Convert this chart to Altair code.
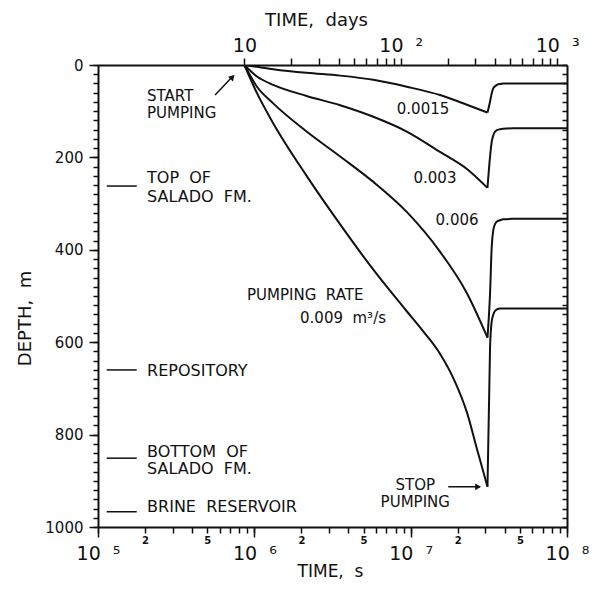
import altair as alt
import pandas as pd

NB = "\u00a0"  # non-breaking space (SVG collapses normal double spaces)

# ---------------- data ----------------
curve_names = ["0.0015", "0.003", "0.006", "0.009"]

pre_time_s = [1e5, 8.64e5]

pump_time_0015 = [8.64e5, 1.04e6, 1.32e6, 2.16e6, 3.54e6, 5.77e6, 9.44e6, 1.54e7, 2.29e7, 3.1e7]
pump_depth_0015 = [0, 4, 9, 17, 23, 32, 47, 65, 86, 103]
pump_time_003 = [8.64e5, 1.04e6, 1.32e6, 2.16e6, 3.54e6, 5.77e6, 9.44e6, 1.54e7, 2.29e7, 3.1e7]
pump_depth_003 = [0, 25, 43, 67, 87, 112, 144, 188, 225, 266]
pump_time_006 = [8.64e5, 1.04e6, 1.32e6, 2.16e6, 3.54e6, 5.77e6, 9.44e6, 1.54e7, 2.29e7, 3.1e7]
pump_depth_006 = [0, 47, 83, 144, 198, 253, 318, 404, 494, 590]
pump_time_009 = [8.64e5, 1.04e6, 1.32e6, 2.16e6, 3.54e6, 5.77e6, 9.44e6, 1.2e7, 1.54e7, 1.9e7,
                 2.29e7, 2.65e7, 3.1e7]
pump_depth_009 = [0, 61, 126, 240, 345, 443, 533, 576, 625, 682, 752, 830, 913]

rec_time_s = [3.1e7, 3.22e7, 3.3e7, 3.38e7, 3.47e7, 3.56e7, 3.73e7, 3.9e7, 4.5e7, 1e8]
rec_depth_0015 = [103, 79, 61, 50, 46, 43, 41, 40, 40, 40]
rec_depth_003 = [266, 198, 166, 152, 144, 141, 139, 138, 137, 137]
rec_depth_006 = [590, 494, 393, 357, 344, 339, 336, 334, 333, 333]
rec_depth_009 = [913, 610, 555, 540, 532, 529, 527, 527, 527, 527]

marker_depth = [262, 660, 851, 967]
marker_t0 = 1.137e5
marker_t1 = 1.769e5

marker_texts = ["TOP" + NB + NB + "OF", "SALADO" + NB + NB + "FM.", "REPOSITORY",
                "BOTTOM" + NB + NB + "OF", "SALADO" + NB + NB + "FM.", "BRINE" + NB + NB + "RESERVOIR"]
marker_text_depth = [245, 286, 662, 837, 874, 957]
marker_text_t = 2.06e5

annot_texts = ["START\nPUMPING", "0.0015", "0.003", "0.006",
               "PUMPING" + NB + NB + "RATE", "0.009" + NB + NB + "m\u00b3/s", "STOP\nPUMPING"]
annot_t = [2.06e5, 1.2e7, 1.43e7, 1.98e7, 8.98e5, 1.96e6, 1.07e7]
annot_depth = [68, 95, 245, 336, 498, 548, 910]
annot_align = ["left", "center", "center", "center", "left", "left", "center"]

arrow_t = [5.61e5, 1.74e7]
arrow_t2 = [7.31e5, 2.78e7]
arrow_depth = [65, 913]
arrow_depth2 = [24, 913]
head_t = [7.25e5, 2.7e7]
head_depth = [26, 913]
head_shape = ["triangle-up", "triangle-right"]
head_angle = [43, 0]

bottom_tick_values = [1e5, 2e5, 3e5, 4e5, 5e5, 6e5, 7e5, 8e5, 9e5,
                      1e6, 2e6, 3e6, 4e6, 5e6, 6e6, 7e6, 8e6, 9e6,
                      1e7, 2e7, 3e7, 4e7, 5e7, 6e7, 7e7, 8e7, 9e7, 1e8]
bottom_major_values = [1e5, 1e6, 1e7, 1e8]
bottom_major_labels = ["10" + NB + NB + "\u2075", "10" + NB + NB + "\u2076",
                       "10" + NB + NB + "\u2077", "10" + NB + NB + "\u2078"]
bottom_minor_values = [2e5, 5e5, 2e6, 5e6, 2e7, 5e7]
bottom_minor_labels = ["2", "5", "2", "5", "2", "5"]

top_tick_days = [10, 20, 30, 40, 50, 60, 70, 80, 90,
                 100, 200, 300, 400, 500, 600, 700, 800, 900, 1000]
top_tick_labels = ["10", "", "", "", "", "", "", "", "",
                   "10" + NB + NB + "\u00b2", "", "", "", "", "", "", "", "", "10" + NB + NB + "\u00b3"]
SECONDS_PER_DAY = 86400

depth_tick_values = list(range(0, 1001, 20))
depth_major_values = [0, 200, 400, 600, 800, 1000]

# ---------------- frames ----------------
pump_t = [pump_time_0015, pump_time_003, pump_time_006, pump_time_009]
pump_d = [pump_depth_0015, pump_depth_003, pump_depth_006, pump_depth_009]
recs = [rec_depth_0015, rec_depth_003, rec_depth_006, rec_depth_009]
rows = []
for name, pt, pdp, rdp in zip(curve_names, pump_t, pump_d, recs):
    for t in pre_time_s:
        rows.append({"t": t, "depth": 0, "seg": name + "_pre"})
    for t, d in zip(pt, pdp):
        rows.append({"t": t, "depth": d, "seg": name + "_pump"})
    for t, d in zip(rec_time_s, rdp):
        rows.append({"t": t, "depth": d, "seg": name + "_rec"})
df = pd.DataFrame(rows)

df_mark = pd.DataFrame({"t": [marker_t0] * len(marker_depth),
                        "t2": [marker_t1] * len(marker_depth),
                        "depth": marker_depth})
df_mtext = pd.DataFrame({"t": [marker_text_t] * len(marker_texts),
                         "depth": marker_text_depth, "txt": marker_texts})
df_ann = pd.DataFrame({"t": annot_t, "depth": annot_depth, "txt": annot_texts,
                       "al": annot_align})
df_arrow = pd.DataFrame({"t": arrow_t, "t2": arrow_t2, "depth": arrow_depth,
                         "depth2": arrow_depth2})
df_head = pd.DataFrame({"t": head_t, "depth": head_depth, "shape": head_shape,
                        "angle": head_angle})
df_axis = pd.DataFrame({"t": [1e5, 1e8], "depth": [0, 1000]})

W, H = 469, 462
FONT = "DejaVu Sans"
INK = "#111111"

xs = alt.Scale(type="log", domain=[1e5, 1e8], nice=False)
ys = alt.Scale(domain=[0, 1000], reverse=True, nice=False, zero=False)


def arr(vals):
    return "[" + ",".join(repr(v) for v in vals) + "]"


def lab_expr(vals, labels):
    return ("[" + ",".join("'" + s + "'" for s in labels) + "]"
            + "[indexof(" + arr(vals) + ", datum.value)]")


common = dict(labelOverlap=False, labelFlush=False, labelBound=False, grid=False)

# bottom axes
ax_bottom_ticks = alt.Axis(orient="bottom", values=bottom_tick_values, labels=False, tickSize=6,
                           title="TIME," + NB + NB + "s", titleFontSize=17, titleX=232, titleY=44,
                           titleBaseline="middle", **common)
ax_bottom_major = alt.Axis(orient="bottom", values=bottom_major_values, tickSize=10, domain=False,
                           labelExpr=lab_expr(bottom_major_values, bottom_major_labels),
                           labelFontSize=19, labelPadding=7, title=None, **common)
ax_bottom_minor = alt.Axis(orient="bottom", values=bottom_minor_values, ticks=False, tickSize=0,
                           domain=False, labelExpr=lab_expr(bottom_minor_values, bottom_minor_labels),
                           labelFontSize=10, labelFontWeight="bold", labelPadding=8, title=None, **common)
# top axis (days, same seconds scale)
top_vals_s = [d * SECONDS_PER_DAY for d in top_tick_days]
ax_top = alt.Axis(orient="top", values=top_vals_s, tickSize=7,
                  labelExpr=lab_expr(top_vals_s, top_tick_labels),
                  labelFontSize=19, labelPadding=3,
                  title="TIME," + NB + NB + "days", titleFontSize=18, titleX=218, titleY=-45,
                  titleBaseline="middle", **common)
# left axes
ax_left_ticks = alt.Axis(orient="left", values=depth_tick_values, labels=False, tickSize=5,
                         title="DEPTH," + NB + NB + "m", titleFontSize=18, titleX=-73, titleY=253,
                         titleBaseline="middle", titleAlign="center", **common)
ax_left_major = alt.Axis(orient="left", values=depth_major_values, tickSize=9, domain=False,
                         labelExpr="'' + datum.value", labelFontSize=15, labelPadding=6,
                         title=None, **common)
# right border ticks pointing inward
ax_right = alt.Axis(orient="left", offset=-W, values=depth_tick_values, labels=False,
                    tickSize=5, title=None, **common)

lines = alt.Chart(df).mark_line(interpolate="monotone", color=INK, strokeWidth=2, clip=True).encode(
    x=alt.X("t:Q", scale=xs, axis=ax_bottom_ticks),
    y=alt.Y("depth:Q", scale=ys, axis=ax_left_ticks),
    detail="seg:N",
    order="t:Q",
)

axis_layer_1 = alt.Chart(df_axis).mark_point(opacity=0).encode(
    x=alt.X("t:Q", scale=xs, axis=ax_bottom_major),
    y=alt.Y("depth:Q", scale=ys, axis=ax_left_major),
)
axis_layer_2 = alt.Chart(df_axis).mark_point(opacity=0).encode(
    x=alt.X("t:Q", scale=xs, axis=ax_bottom_minor),
    y=alt.Y("depth:Q", scale=ys, axis=ax_right),
)
axis_layer_3 = alt.Chart(df_axis).mark_point(opacity=0).encode(
    x=alt.X("t:Q", scale=xs, axis=ax_top),
    y=alt.Y("depth:Q", scale=ys, axis=None),
)

markers = alt.Chart(df_mark).mark_rule(color=INK, strokeWidth=1.5).encode(
    x=alt.X("t:Q", scale=xs, axis=None),
    x2="t2:Q",
    y=alt.Y("depth:Q", scale=ys, axis=None),
)

marker_text = alt.Chart(df_mtext).mark_text(
    align="left", baseline="middle", font=FONT, fontSize=16, color=INK
).encode(
    x=alt.X("t:Q", scale=xs, axis=None),
    y=alt.Y("depth:Q", scale=ys, axis=None),
    text="txt:N",
)

ann_left = alt.Chart(df_ann).transform_filter("datum.al == 'left'").mark_text(
    align="left", baseline="middle", font=FONT, fontSize=15, color=INK,
    lineBreak="\n", lineHeight=17
).encode(
    x=alt.X("t:Q", scale=xs, axis=None),
    y=alt.Y("depth:Q", scale=ys, axis=None),
    text="txt:N",
)
ann_center = alt.Chart(df_ann).transform_filter("datum.al == 'center'").mark_text(
    align="center", baseline="middle", font=FONT, fontSize=15, color=INK,
    lineBreak="\n", lineHeight=17
).encode(
    x=alt.X("t:Q", scale=xs, axis=None),
    y=alt.Y("depth:Q", scale=ys, axis=None),
    text="txt:N",
)

arrows = alt.Chart(df_arrow).mark_rule(color=INK, strokeWidth=1.5).encode(
    x=alt.X("t:Q", scale=xs, axis=None),
    x2="t2:Q",
    y=alt.Y("depth:Q", scale=ys, axis=None),
    y2="depth2:Q",
)
heads = alt.Chart(df_head).mark_point(filled=True, color=INK, opacity=1, size=45).encode(
    x=alt.X("t:Q", scale=xs, axis=None),
    y=alt.Y("depth:Q", scale=ys, axis=None),
    shape=alt.Shape("shape:N", scale=None),
    angle=alt.Angle("angle:Q", scale=None),
)

chart = alt.layer(
    lines, axis_layer_1, axis_layer_2, axis_layer_3,
    markers, marker_text, ann_left, ann_center, arrows, heads
).resolve_axis(
    x="independent", y="independent"
).properties(
    width=W, height=H,
    autosize=alt.AutoSizeParams(type="none"),
    padding={"left": 90, "top": 57, "right": 22, "bottom": 55},
    background="white",
).configure_view(stroke=None).configure_axis(
    domainColor=INK, domainWidth=2, tickColor=INK, tickWidth=1.5,
    labelFont=FONT, labelColor=INK, titleFont=FONT, titleColor=INK,
    titleFontWeight="normal",
)

chart.save("out.html", embed_options={"renderer": "svg", "actions": False})
